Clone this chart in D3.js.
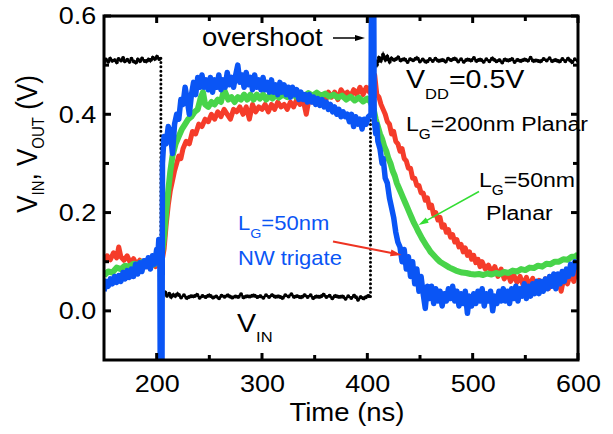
<!DOCTYPE html>
<html><head><meta charset="utf-8">
<script src="https://cdn.jsdelivr.net/npm/d3@7"></script>
<style>
html,body{margin:0;padding:0;background:#fff;}
svg{display:block;font-family:"Liberation Sans",Arial,sans-serif;}
</style></head>
<body><svg id="c" width="613" height="434"></svg>
<script>
// ---------- DATA (time in ns, voltage in V) ----------
const xTicksMajor = [200, 300, 400, 500, 600];
const xTicksMinor = [250, 350, 450, 550];
const yTicksMajor = [0.0, 0.2, 0.4, 0.6];
const yTicksMinor = [0.1, 0.3, 0.5];

const vinHigh1 = [[150,0.505],[152,0.512],[154,0.507],[156,0.514],[158,0.508],[160,0.511],[162,0.505],[164,0.513],[166,0.509],[168,0.515],[170,0.507],[172,0.511],[174,0.506],[176,0.513],[178,0.508],[180,0.504],[182,0.512],[184,0.507],[186,0.514],[188,0.509],[190,0.506],[192,0.513],[194,0.508],[196,0.516],[198,0.511],[200,0.518],[202,0.512],[204,0.514]];
const vinLow = [[206,0.033],[208,0.038],[210,0.030],[212,0.035],[214,0.027],[216,0.034],[218,0.029],[220,0.036],[223,0.027],[226,0.032],[229,0.025],[232,0.031],[235,0.028],[238,0.034],[241,0.026],[244,0.031],[247,0.027],[250,0.033],[253,0.026],[256,0.030],[259,0.025],[262,0.032],[265,0.028],[268,0.033],[271,0.026],[274,0.030],[277,0.027],[280,0.034],[283,0.026],[286,0.031],[289,0.028],[292,0.033],[295,0.027],[298,0.031],[301,0.026],[304,0.032],[307,0.028],[310,0.033],[313,0.027],[316,0.031],[319,0.025],[322,0.032],[325,0.029],[328,0.034],[331,0.027],[334,0.031],[337,0.026],[340,0.033],[343,0.028],[346,0.032],[349,0.025],[352,0.031],[355,0.027],[358,0.034],[361,0.028],[364,0.031],[367,0.025],[370,0.032],[373,0.027],[376,0.031],[379,0.024],[382,0.030],[385,0.026],[388,0.032],[391,0.022],[394,0.029],[397,0.024],[400,0.031],[403,0.029]];
const vinHigh2 = [[405,0.505],[407,0.512],[409,0.500],[411,0.515],[413,0.508],[415,0.522],[417,0.510],[419,0.518],[421,0.506],[423,0.515],[426,0.509],[429,0.517],[432,0.508],[435,0.514],[438,0.506],[441,0.513],[444,0.509],[447,0.516],[450,0.507],[453,0.512],[456,0.505],[459,0.513],[462,0.508],[465,0.514],[468,0.507],[471,0.512],[474,0.506],[477,0.514],[480,0.509],[483,0.515],[486,0.507],[489,0.512],[492,0.506],[495,0.513],[498,0.508],[501,0.515],[504,0.507],[507,0.513],[510,0.506],[513,0.512],[516,0.508],[519,0.515],[522,0.507],[525,0.511],[528,0.505],[531,0.513],[534,0.508],[537,0.514],[540,0.506],[543,0.512],[546,0.507],[549,0.513],[552,0.508],[555,0.515],[558,0.507],[561,0.511],[564,0.506],[567,0.513],[570,0.509],[573,0.514],[576,0.507],[579,0.512],[582,0.506],[585,0.513],[588,0.508],[591,0.514],[594,0.505],[597,0.512],[600,0.508]];

// L_G = 200 nm planar (red)
const red200 = [[150,0.100],[153,0.112],[156,0.104],[159,0.118],[162,0.108],[164,0.130],[166,0.110],[169,0.103],[172,0.112],[175,0.098],[178,0.106],[181,0.094],[184,0.103],[187,0.092],[190,0.099],[193,0.088],[196,0.097],[199,0.090],[202,0.095],[205,0.100],[207,0.125],[209,0.175],[211,0.215],[213,0.245],[215,0.265],[217,0.285],[219,0.30],[221,0.315],[223,0.31],[225,0.33],[228,0.345],[231,0.34],[234,0.365],[237,0.36],[240,0.38],[243,0.375],[246,0.39],[249,0.385],[252,0.40],[255,0.39],[258,0.405],[261,0.395],[264,0.41],[267,0.40],[270,0.39],[273,0.41],[276,0.405],[279,0.415],[282,0.40],[285,0.415],[288,0.39],[291,0.42],[294,0.405],[297,0.415],[300,0.41],[303,0.42],[306,0.405],[309,0.42],[312,0.41],[315,0.425],[318,0.415],[321,0.42],[324,0.41],[327,0.425],[330,0.415],[333,0.43],[336,0.42],[339,0.43],[342,0.40],[345,0.435],[348,0.425],[351,0.44],[354,0.43],[357,0.44],[360,0.425],[363,0.445],[366,0.435],[369,0.445],[372,0.43],[375,0.45],[378,0.44],[381,0.445],[384,0.435],[387,0.45],[390,0.44],[393,0.455],[396,0.44],[399,0.455],[402,0.445],[405,0.47],[407,0.48],[409,0.44],[411,0.435],[413,0.42],[415,0.41],[417,0.40],[419,0.385],[421,0.38],[423,0.36],[425,0.365],[427,0.345],[429,0.34],[431,0.325],[433,0.33],[435,0.31],[437,0.305],[439,0.29],[441,0.29],[443,0.27],[445,0.27],[447,0.255],[449,0.255],[451,0.24],[453,0.24],[455,0.225],[457,0.23],[459,0.21],[461,0.215],[463,0.195],[465,0.2],[467,0.185],[469,0.19],[471,0.17],[473,0.175],[475,0.16],[477,0.165],[479,0.15],[481,0.155],[483,0.14],[485,0.145],[487,0.13],[489,0.135],[491,0.12],[493,0.128],[495,0.113],[497,0.12],[499,0.105],[501,0.113],[503,0.098],[505,0.105],[507,0.09],[509,0.1],[512,0.085],[515,0.093],[518,0.078],[521,0.09],[524,0.07],[527,0.085],[530,0.065],[533,0.078],[536,0.06],[539,0.073],[542,0.058],[545,0.07],[548,0.052],[551,0.068],[554,0.05],[557,0.066],[560,0.045],[563,0.062],[566,0.05],[569,0.065],[572,0.045],[575,0.068],[578,0.05],[581,0.07],[584,0.04],[587,0.072],[590,0.055],[593,0.078],[596,0.06],[598,0.08],[600,0.07]];

// L_G = 50 nm planar (green)
const green50 = [[150,0.072],[154,0.08],[158,0.078],[162,0.088],[166,0.085],[170,0.092],[174,0.09],[178,0.096],[182,0.094],[186,0.1],[190,0.096],[194,0.092],[198,0.095],[202,0.1],[205,0.115],[207,0.15],[209,0.2],[211,0.245],[213,0.285],[215,0.315],[218,0.34],[221,0.355],[224,0.37],[227,0.38],[230,0.39],[233,0.395],[236,0.405],[239,0.41],[242,0.435],[244,0.445],[246,0.42],[249,0.415],[252,0.425],[255,0.42],[258,0.43],[261,0.425],[264,0.45],[266,0.44],[268,0.43],[271,0.435],[274,0.425],[277,0.435],[280,0.43],[283,0.44],[286,0.43],[289,0.44],[292,0.43],[295,0.44],[298,0.432],[301,0.44],[304,0.43],[307,0.438],[310,0.432],[313,0.44],[316,0.434],[320,0.44],[324,0.435],[328,0.442],[332,0.436],[336,0.442],[340,0.436],[344,0.443],[348,0.438],[352,0.444],[356,0.438],[360,0.442],[364,0.436],[368,0.44],[372,0.434],[376,0.438],[380,0.43],[384,0.436],[388,0.428],[392,0.434],[396,0.426],[400,0.432],[403,0.425],[406,0.41],[408,0.39],[410,0.375],[412,0.36],[414,0.35],[416,0.335],[418,0.325],[420,0.31],[422,0.3],[424,0.285],[426,0.275],[428,0.26],[430,0.25],[432,0.24],[434,0.23],[436,0.22],[438,0.21],[440,0.2],[442,0.19],[444,0.18],[446,0.172],[448,0.163],[450,0.155],[452,0.147],[454,0.14],[456,0.133],[458,0.127],[460,0.12],[463,0.113],[466,0.106],[469,0.1],[472,0.096],[475,0.092],[478,0.088],[481,0.085],[484,0.082],[487,0.08],[490,0.078],[494,0.077],[498,0.075],[502,0.074],[506,0.075],[510,0.073],[514,0.076],[518,0.074],[522,0.077],[526,0.075],[530,0.079],[534,0.077],[538,0.082],[542,0.08],[546,0.085],[550,0.083],[554,0.088],[558,0.087],[562,0.092],[566,0.09],[570,0.096],[574,0.095],[578,0.1],[582,0.1],[586,0.105],[590,0.104],[594,0.11],[597,0.11],[600,0.115]];

// L_G = 50 nm NW trigate (blue)
const blueNW = [[150,0.04],[152,0.06],[154,0.05],[156,0.065],[158,0.055],[160,0.07],[162,0.058],[164,0.072],[166,0.06],[168,0.078],[170,0.065],[172,0.082],[174,0.068],[176,0.085],[178,0.07],[180,0.095],[182,0.075],[184,0.098],[186,0.08],[188,0.102],[190,0.09],[192,0.108],[194,0.085],[196,0.112],[198,0.095],[200,0.125],[201,0.105],[202,0.145],[203,0.13],[203.5,-0.2],[205,-0.2],[205.5,0.3],[207,0.355],[209,0.34],[211,0.375],[213,0.365],[215,0.32],[217,0.38],[219,0.4],[221,0.39],[223,0.43],[225,0.42],[227,0.455],[229,0.43],[231,0.4],[233,0.44],[235,0.465],[237,0.44],[239,0.475],[241,0.455],[243,0.48],[245,0.455],[247,0.47],[249,0.45],[251,0.475],[253,0.445],[255,0.47],[257,0.455],[259,0.48],[261,0.45],[263,0.47],[265,0.455],[267,0.485],[269,0.46],[271,0.475],[273,0.455],[275,0.48],[277,0.5],[279,0.465],[281,0.48],[283,0.455],[285,0.485],[287,0.46],[289,0.475],[291,0.45],[293,0.48],[295,0.455],[297,0.47],[299,0.45],[301,0.475],[303,0.45],[305,0.465],[307,0.445],[309,0.47],[311,0.445],[313,0.46],[315,0.44],[317,0.465],[319,0.445],[321,0.46],[323,0.44],[325,0.455],[327,0.435],[329,0.455],[331,0.44],[333,0.45],[335,0.43],[337,0.445],[339,0.43],[341,0.44],[343,0.425],[345,0.44],[347,0.425],[349,0.435],[351,0.42],[353,0.432],[355,0.418],[357,0.43],[359,0.415],[361,0.425],[363,0.41],[365,0.42],[367,0.405],[369,0.415],[371,0.4],[373,0.41],[375,0.395],[377,0.405],[379,0.395],[381,0.4],[383,0.385],[385,0.4],[387,0.375],[389,0.395],[391,0.38],[393,0.39],[395,0.37],[397,0.39],[399,0.38],[401,0.395],[403.5,0.4],[404,0.7],[406,0.7],[406.5,0.39],[408,0.36],[409,0.38],[410,0.345],[412,0.33],[414,0.3],[415,0.31],[417,0.27],[419,0.26],[421,0.23],[423,0.21],[425,0.19],[427,0.16],[429,0.14],[431,0.13],[433,0.1],[435,0.125],[437,0.085],[439,0.11],[441,0.07],[443,0.1],[445,0.055],[447,0.085],[449,0.04],[451,0.07],[453,0.035],[455,0.005],[457,0.05],[459,0.025],[461,0.05],[463,0.015],[465,0.045],[467,0.02],[469,0.04],[471,0.01],[473,0.035],[475,0.02],[477,0.045],[479,0.025],[481,0.05],[483,0.02],[485,0.04],[487,0.01],[489,0.035],[491,0.015],[493,0.04],[495,-0.005],[497,0.03],[499,0.01],[501,0.035],[503,0.015],[505,0.04],[507,0.02],[509,0.045],[511,0.01],[513,0.035],[515,0.02],[517,0.04],[519,0.0],[521,0.03],[523,0.015],[525,0.04],[527,0.02],[529,0.045],[531,0.02],[533,0.04],[535,0.015],[537,0.045],[539,0.025],[541,0.05],[543,0.02],[545,0.045],[547,0.03],[549,0.055],[551,0.025],[553,0.05],[555,0.03],[557,0.055],[559,0.035],[561,0.06],[563,0.035],[565,0.06],[567,0.04],[569,0.065],[571,0.045],[573,0.07],[575,0.05],[577,0.075],[579,0.045],[581,0.075],[583,0.055],[585,0.08],[587,0.06],[589,0.085],[591,0.07],[593,0.095],[595,0.075],[597,0.1],[600,0.085]];

// ---------- CHART ----------
const BLUE = "#0a55f5", RED = "#f53c2a", GREEN = "#48d44a";
const SX = 1.1;
const svg = d3.select("#c");
const M = {l:104, r:578, t:16, b:360};
const x = d3.scaleLinear().domain([150, 600]).range([M.l, M.r]);
const y = d3.scaleLinear().domain([-0.1, 0.6]).range([M.b, M.t]);
const line = d3.line().x(d => x(d[0])).y(d => y(d[1]));

svg.append("clipPath").attr("id","clip").append("rect")
  .attr("x", M.l).attr("y", M.t).attr("width", M.r - M.l).attr("height", M.b - M.t);
const plot = svg.append("g").attr("clip-path","url(#clip)");

// V_IN trace
[vinHigh1, vinLow, vinHigh2].forEach(seg => {
  plot.append("path").attr("d", line(seg)).attr("fill","none")
    .attr("stroke","#111").attr("stroke-width",2.2);
  plot.append("path").attr("d", line(seg)).attr("fill","none")
    .attr("stroke","#000").attr("stroke-width",4).attr("stroke-linecap","round")
    .attr("stroke-dasharray","0,3.6");
});
[[vinHigh1[vinHigh1.length-1], vinLow[0]], [vinLow[vinLow.length-1], vinHigh2[0]]].forEach(e => {
  const edge = [[e[0][0], e[0][1]], [e[0][0], e[1][1]]];
  plot.append("path").attr("d", line(edge)).attr("fill","none")
    .attr("stroke","#000").attr("stroke-width",3).attr("stroke-linecap","round")
    .attr("stroke-dasharray","0,4.3");
});

// output traces
[[red200, RED, 5], [green50, GREEN, 6], [blueNW, BLUE, 5.5]].forEach(([d, c, w]) => {
  plot.append("path").attr("d", line(d)).attr("fill","none")
    .attr("stroke", c).attr("stroke-width", w)
    .attr("stroke-linejoin","round").attr("stroke-linecap","butt");
});

// frame
svg.append("rect").attr("x", M.l).attr("y", M.t).attr("width", M.r - M.l).attr("height", M.b - M.t)
  .attr("fill","none").attr("stroke","#000").attr("stroke-width",3);

// ticks (inward, all four sides)
function ticks(vals, len) {
  vals.forEach(v => {
    const xv = x(v);
    svg.append("line").attr("x1",xv).attr("x2",xv).attr("y1",M.b).attr("y2",M.b-len);
    svg.append("line").attr("x1",xv).attr("x2",xv).attr("y1",M.t).attr("y2",M.t+len);
  });
}
function yticks(vals, len) {
  vals.forEach(v => {
    const yv = y(v);
    svg.append("line").attr("x1",M.l).attr("x2",M.l+len).attr("y1",yv).attr("y2",yv);
    svg.append("line").attr("x1",M.r).attr("x2",M.r-len).attr("y1",yv).attr("y2",yv);
  });
}
ticks(xTicksMajor, 7); ticks(xTicksMinor, 5);
yticks(yTicksMajor, 7); yticks(yTicksMinor, 5);
svg.selectAll("line").attr("stroke","#000").attr("stroke-width",3);

// tick labels via axes
const xAxis = svg.append("g").attr("transform",`translate(0,${M.b})`)
  .call(d3.axisBottom(x).tickValues(xTicksMajor).tickSize(0).tickPadding(15));
const yAxis = svg.append("g").attr("transform",`translate(${M.l},0)`)
  .call(d3.axisLeft(y).tickValues(yTicksMajor).tickFormat(d3.format(".1f")).tickSize(0).tickPadding(7));
[xAxis, yAxis].forEach(a => {
  a.select(".domain").remove();
  a.selectAll("text").attr("font-size",24.5).attr("fill","#000")
    .attr("font-family","'Liberation Sans',Arial,sans-serif");
});
xAxis.selectAll("text").attr("transform",`scale(${SX},1)`).attr("x",0);
yAxis.selectAll("text").attr("transform",`scale(${SX},1)`);

function addText(x0, y0, parts, size, subSize, subDy, fill, anchor) {
  const t = svg.append("text").attr("transform",`translate(${x0},${y0}) scale(${SX},1)`)
    .attr("font-size", size).attr("fill", fill || "#000").attr("text-anchor", anchor || "start");
  let sub = false;
  parts.forEach(([s, isSub]) => {
    const ts = t.append("tspan").text(s);
    if (isSub) { ts.attr("font-size", subSize); if (!sub) ts.attr("dy", subDy); }
    else if (sub) ts.attr("dy", -subDy);
    sub = !!isSub;
  });
  return t;
}

// axis titles
addText(347, 421, [["Time (ns)"]], 25, 0, 0, "#000", "middle");
svg.append("text").attr("transform",`translate(37,144) scale(${SX},1) rotate(-90)`)
  .attr("font-size",26).attr("text-anchor","middle")
  .call(t => {
    t.append("tspan").text("V");
    t.append("tspan").text("IN").attr("font-size",15).attr("dy",6);
    t.append("tspan").text(", V").attr("dy",-6);
    t.append("tspan").text("OUT").attr("font-size",15).attr("dy",6);
    t.append("tspan").text(" (V)").attr("dy",-6);
  });

// annotations
addText(202, 46, [["overshoot"]], 25);
addText(406, 88, [["V"],["DD",true],["=0.5V"]], 26, 15, 11);
addText(406, 131, [["L"],["G",true],["=200nm Planar"]], 21, 14, 8);
addText(479, 187, [["L"],["G",true],["=50nm"]], 21, 14, 8);
addText(486, 220, [["Planar"]], 21);
addText(238, 230, [["L"],["G",true],["=50nm"]], 20, 13, 8, BLUE);
addText(238, 265, [["NW trigate"]], 20, 0, 0, BLUE);
addText(237, 332, [["V"],["IN",true]], 26, 15, 10);

// arrows
function arrow(x1, y1, x2, y2, color, w, hl, hw) {
  svg.append("line").attr("x1",x1).attr("y1",y1)
    .attr("x2", x2 - (x2-x1)/Math.hypot(x2-x1,y2-y1)*hl*0.8)
    .attr("y2", y2 - (y2-y1)/Math.hypot(x2-x1,y2-y1)*hl*0.8)
    .attr("stroke",color).attr("stroke-width",w);
  const a = Math.atan2(y2-y1, x2-x1) * 180 / Math.PI;
  svg.append("path").attr("d",`M0,0 L${-hl},${-hw/2} L${-hl},${hw/2} Z`)
    .attr("fill",color).attr("transform",`translate(${x2},${y2}) rotate(${a})`);
}
arrow(333, 38, 365, 38, "#000", 1.5, 10, 6);
arrow(479, 191.5, 418.5, 225, "#33dd33", 1.5, 10, 6);
arrow(333, 241.5, 401.5, 255, "#ee3322", 2, 11, 7);
</script></body></html>
